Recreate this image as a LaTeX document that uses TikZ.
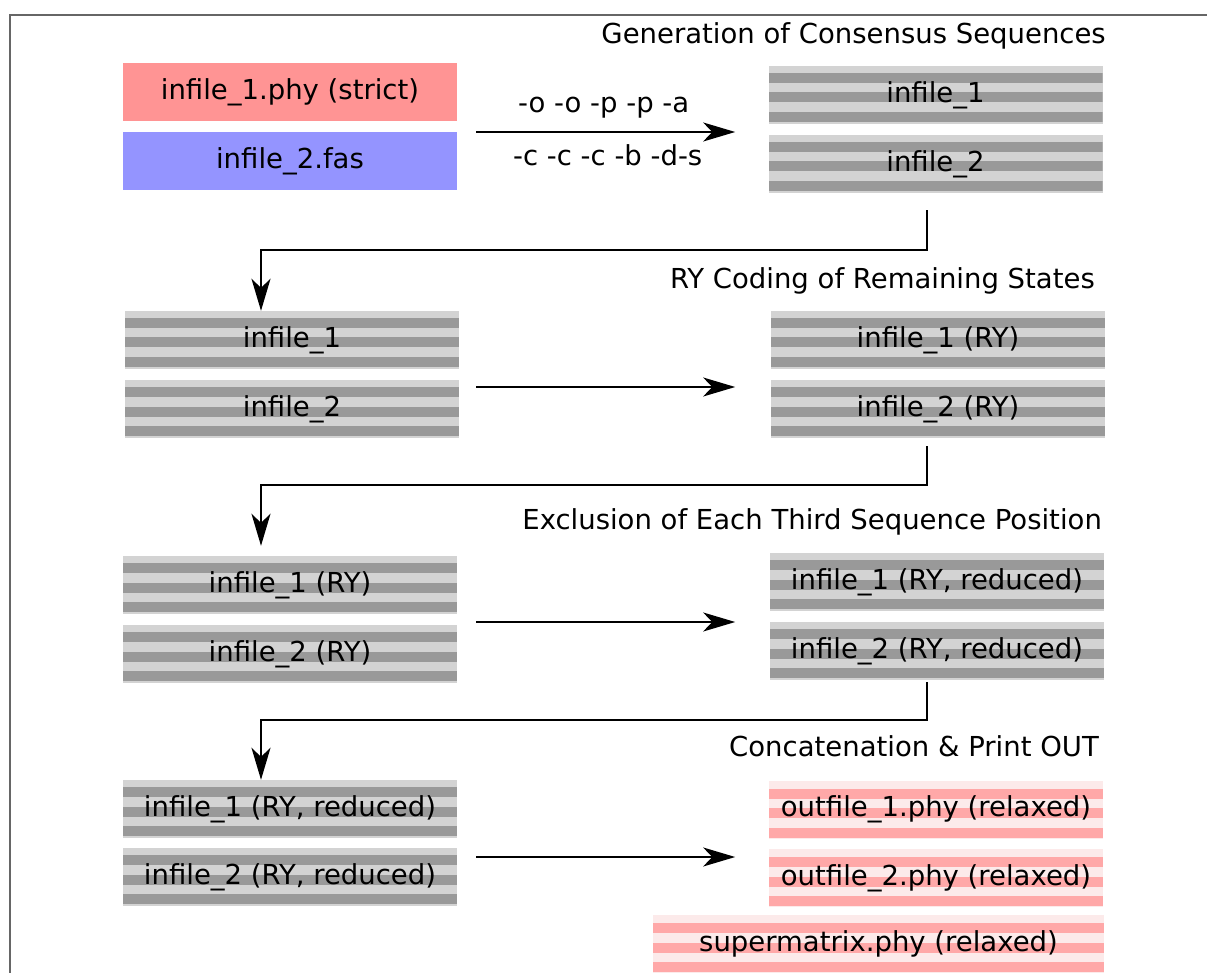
\documentclass[tikz,border=0pt]{standalone}
\usepackage{fontspec}
\setmainfont{DejaVu Sans}
\usetikzlibrary{arrows.meta,positioning}
\definecolor{graylight}{HTML}{D3D3D3}
\definecolor{graydark}{HTML}{999999}
\definecolor{pinklight}{HTML}{FCEAEA}
\definecolor{pinkdark}{HTML}{FFA8A8}
\definecolor{strictred}{HTML}{FF9494}
\definecolor{fasblue}{HTML}{9494FF}
\definecolor{framegray}{HTML}{666666}
\tikzstyle{file} = [minimum width=334pt, minimum height=58pt, inner sep=0pt, text height=20.5pt, text depth=6pt, font=\fontsize{27.5}{33}\selectfont]
\tikzstyle{graystripe} = [file, fill=graylight, path picture={\foreach \k in {0,1,2} \fill[graydark] ([yshift=-7pt-19.5pt*\k]path picture bounding box.north west) rectangle ([yshift=-17pt-19.5pt*\k]path picture bounding box.north east);}]
\tikzstyle{pinkstripe} = [file, fill=pinklight, path picture={\foreach \k in {0,1,2} \fill[pinkdark] ([yshift=-8pt-19.5pt*\k]path picture bounding box.north west) rectangle ([yshift=-18pt-19.5pt*\k]path picture bounding box.north east);}]
\tikzstyle{title} = [anchor=east, inner sep=0pt, text height=20.5pt, text depth=6pt, font=\fontsize{27.5}{33}\selectfont]
\tikzstyle{arrow} = [line width=2pt, -{Stealth[length=32pt, width=19pt, inset=9pt]}]

\begin{document}
\begin{tikzpicture}[x=1pt, y=-1pt]
\useasboundingbox (0,0) rectangle (1207,973);
\draw[framegray, line width=1.4pt] (10,973) -- (10,15) -- (1207,15);

% consensus sequences
\node[title] (t1) at (1106,36) {Generation of Consensus Sequences};
\node[file, fill=strictred] (l11) at (290,92.5) {infile\_1.phy (strict)};
\node[file, fill=fasblue] (l12) at (290,161) {infile\_2.fas};
\node[graystripe] (r11) at (935.5,95) {infile\_1};
\node[graystripe] (r12) at (935.5,164) {infile\_2};
\draw[arrow] ([xshift=19pt, yshift=29pt]l12.east) -- ++(259,0)
	node[midway, above=12pt, xshift=-2pt, file, minimum width=0pt, minimum height=0pt] {-o -o -p -p -a}
	node[midway, below=12pt, xshift=2pt, file, minimum width=0pt, minimum height=0pt] {-c -c -c -b -d-s};

% RY coding
\node[title] (t2) at (1095,281) {RY Coding of Remaining States};
\node[graystripe] (l21) at (292,340) {infile\_1};
\node[graystripe] (l22) at (292,409) {infile\_2};
\node[graystripe] (r21) at (938,340) {infile\_1 (RY)};
\node[graystripe] (r22) at (938,409) {infile\_2 (RY)};
\draw[arrow] ([xshift=-8.5pt, yshift=-17pt]r12.south) -- ++(0,40) -| ([xshift=-31pt]l21.north);
\draw[arrow] ([xshift=17pt, yshift=22pt]l22.east) -- ++(259,0);

% third positions
\node[title] (t3) at (1102,522) {Exclusion of Each Third Sequence Position};
\node[graystripe] (l31) at (290,585) {infile\_1 (RY)};
\node[graystripe] (l32) at (290,654) {infile\_2 (RY)};
\node[graystripe] (r31) at (937,582) {infile\_1 (RY, reduced)};
\node[graystripe] (r32) at (937,651) {infile\_2 (RY, reduced)};
\draw[arrow] ([xshift=-11pt, yshift=-8pt]r22.south) -- ++(0,39) -| ([xshift=-29pt, yshift=10pt]l31.north);
\draw[arrow] ([xshift=19pt, yshift=32pt]l32.east) -- ++(259,0);

% concatenation
\node[title] (t4) at (1099,749.5) {Concatenation \& Print OUT};
\node[graystripe] (l41) at (290,809) {infile\_1 (RY, reduced)};
\node[graystripe] (l42) at (290,877) {infile\_2 (RY, reduced)};
\node[pinkstripe] (r41) at (936,809.5) {outfile\_1.phy (relaxed)};
\node[pinkstripe] (r42) at (936,878) {outfile\_2.phy (relaxed)};
\node[pinkstripe, minimum width=451pt] (sm) at (878.5,944) {supermatrix.phy (relaxed)};
\draw[arrow] ([xshift=-10pt, yshift=-2pt]r32.south) -- ++(0,38) -| ([xshift=-29pt]l41.north);
\draw[arrow] ([xshift=19pt, yshift=20pt]l42.east) -- ++(259,0);
\end{tikzpicture}
\end{document}
